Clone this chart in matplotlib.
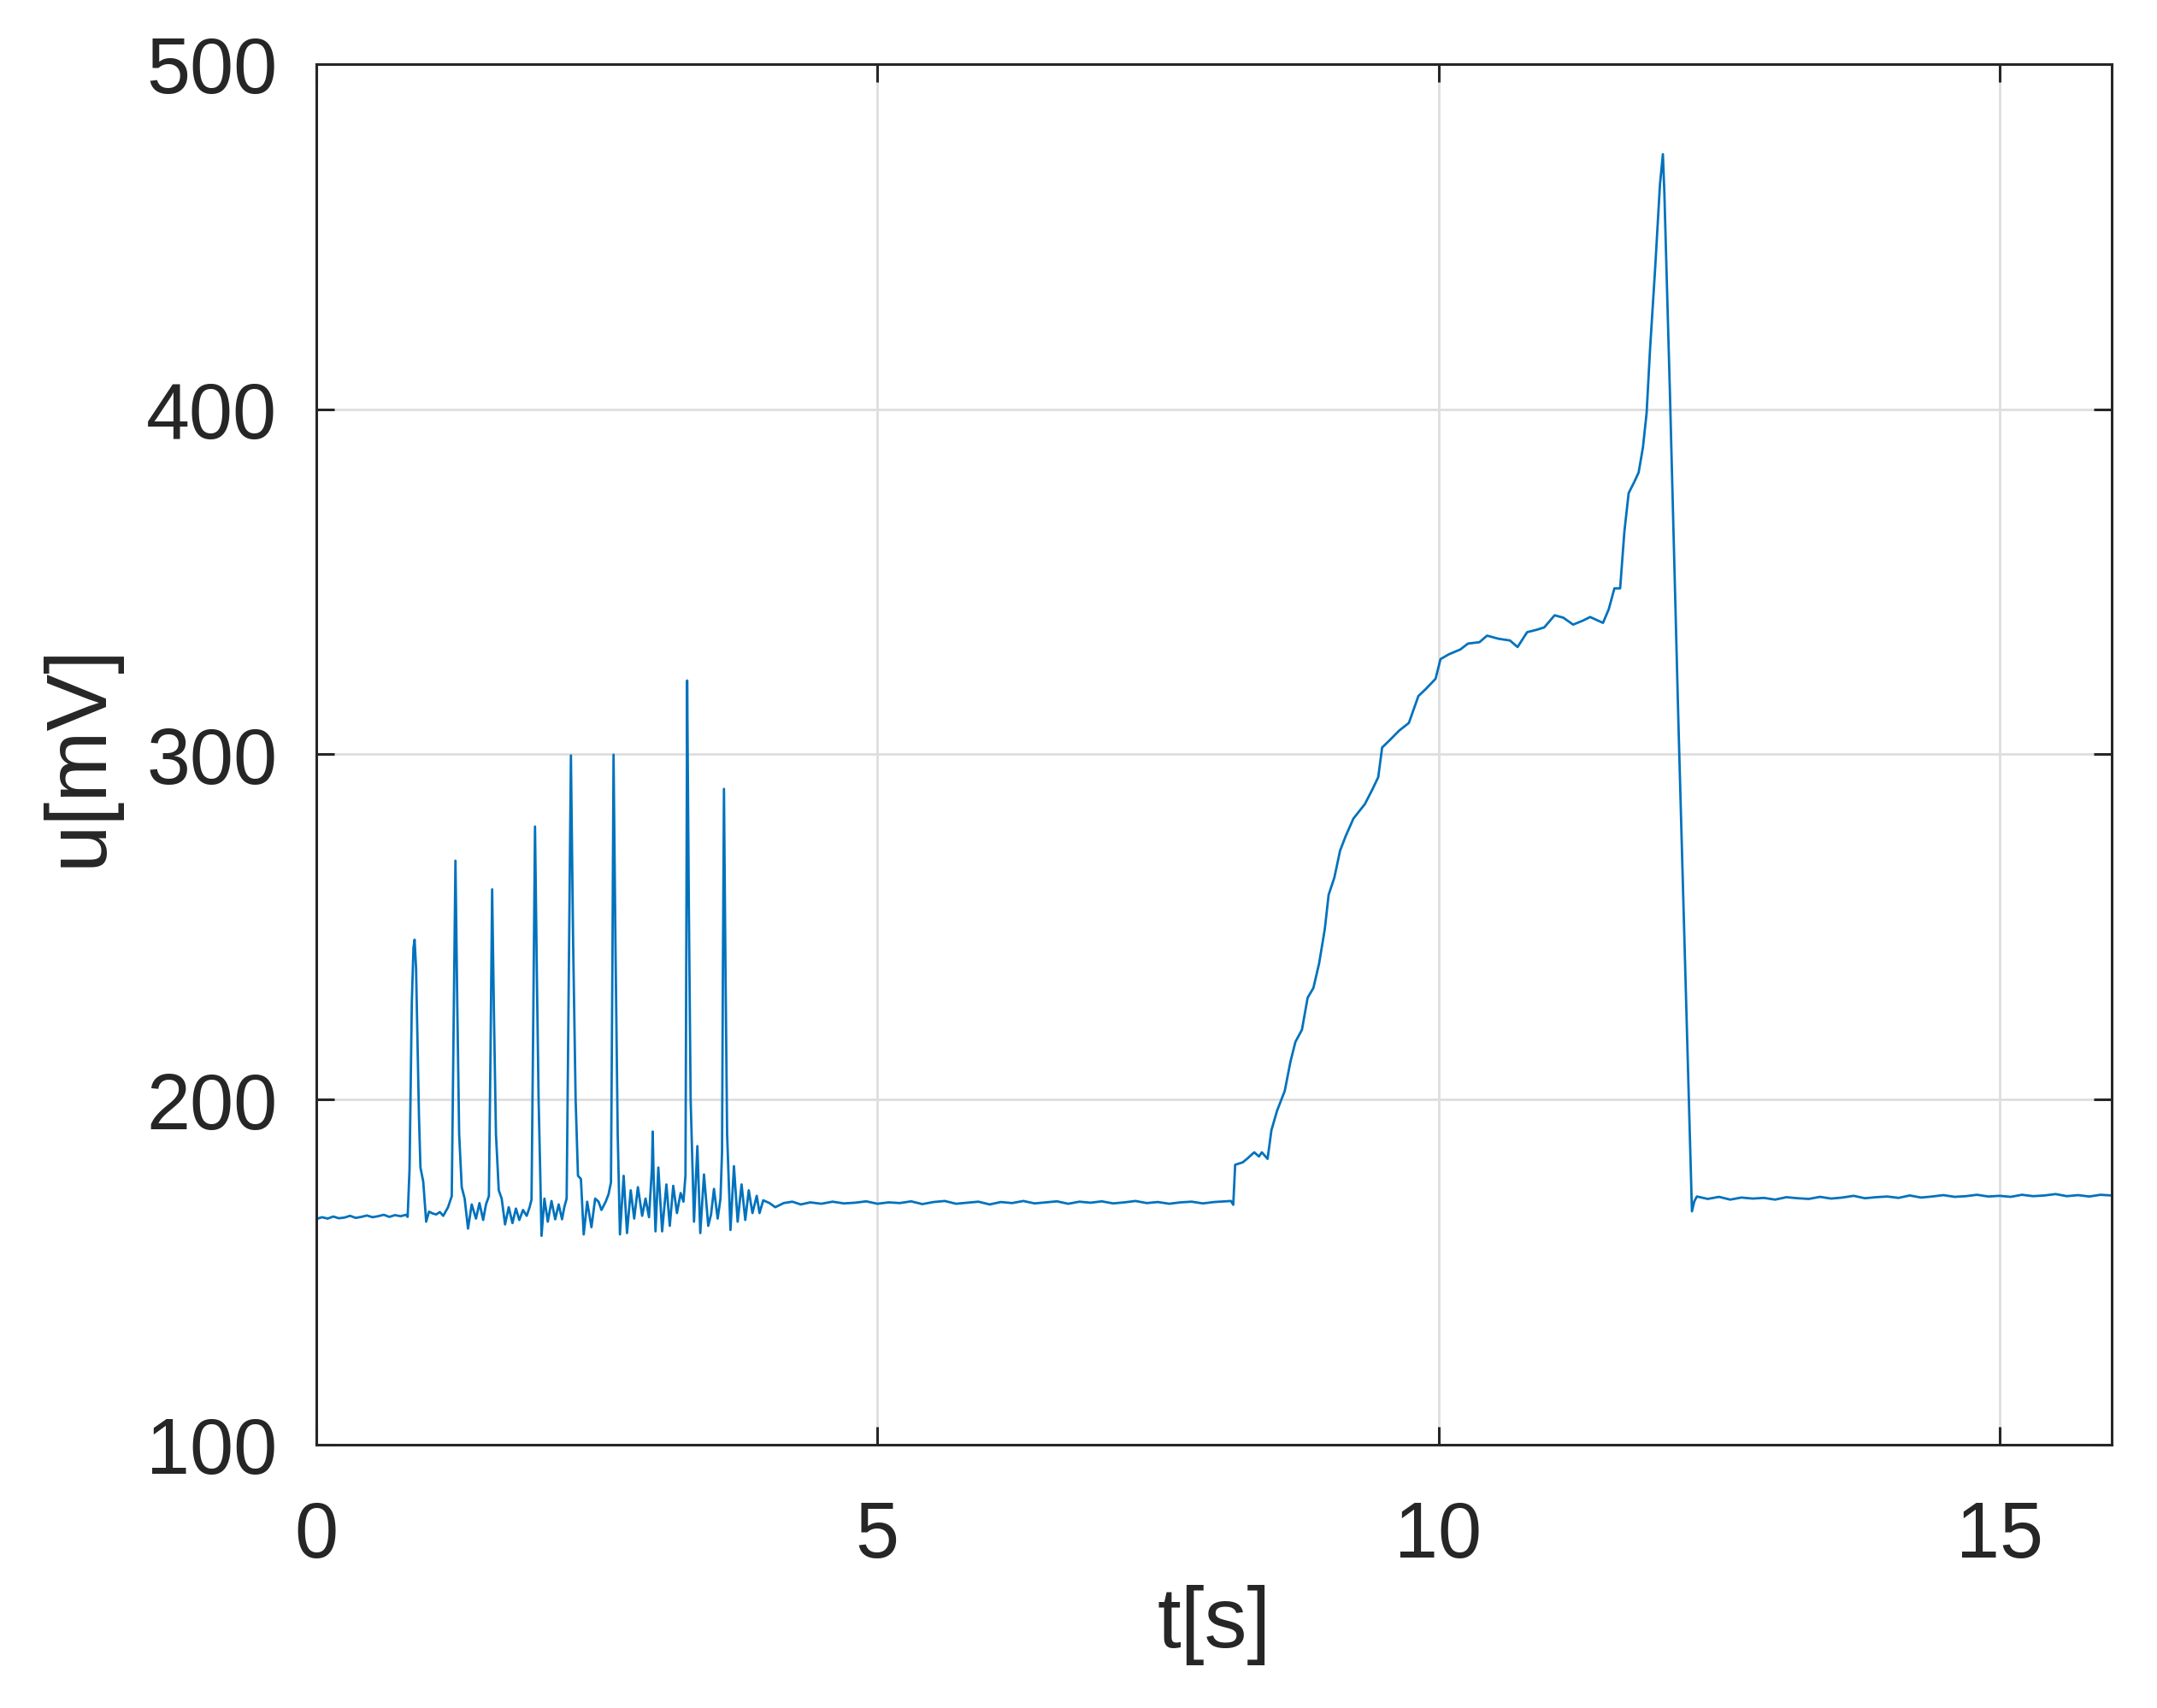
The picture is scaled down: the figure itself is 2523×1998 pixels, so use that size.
import matplotlib
matplotlib.use('Agg')
import matplotlib.pyplot as plt

plt.rcParams['font.family'] = ['Liberation Sans', 'DejaVu Sans']

# time [s] and voltage [mV]
t_base = [0.00, 0.05, 0.10, 0.15, 0.20, 0.25, 0.30, 0.35, 0.40, 0.45, 0.50, 0.55,
          0.60, 0.65, 0.70, 0.75, 0.80]
u_base = [165.4, 165.9, 165.5, 166.1, 165.6, 165.8, 166.3, 165.7, 166.0, 166.4, 165.9, 166.2,
          166.6, 166.0, 166.5, 166.2, 166.6]

# spike train 0.8 .. 4.3 s
t_spikes = [0.813, 0.830, 0.850, 0.865, 0.875, 0.888, 0.902, 0.914, 0.927, 0.952, 0.978, 1.003,
            1.035, 1.067, 1.100, 1.130, 1.173, 1.206,
            1.222, 1.239, 1.255, 1.272, 1.295, 1.321, 1.351, 1.384, 1.422, 1.453, 1.486, 1.511, 1.537,
            1.552, 1.566, 1.582, 1.600, 1.625, 1.651, 1.681, 1.714, 1.747, 1.778, 1.808, 1.841, 1.874,
            1.900, 1.917,
            1.933, 1.948, 1.965, 1.980, 1.994, 2.006, 2.032, 2.062, 2.095, 2.128, 2.159, 2.189, 2.209, 2.230,
            2.250, 2.268, 2.288, 2.310, 2.331, 2.357, 2.382, 2.413, 2.451, 2.484, 2.514, 2.540, 2.578,
            2.603, 2.625,
            2.638, 2.648, 2.665, 2.685, 2.705, 2.738, 2.768, 2.801, 2.832, 2.865, 2.903, 2.933, 2.964,
            2.990, 2.997, 3.005, 3.022, 3.047, 3.081, 3.119, 3.149, 3.180, 3.213, 3.246, 3.271, 3.289,
            3.297, 3.304, 3.318, 3.335, 3.365, 3.395, 3.421, 3.454, 3.492, 3.517, 3.543, 3.576, 3.601, 3.615,
            3.623, 3.632, 3.645, 3.660, 3.690, 3.721, 3.754, 3.789, 3.822, 3.853, 3.886, 3.924, 3.949,
            3.982, 4.038, 4.089, 4.165, 4.241, 4.317]
u_spikes = [166.0, 180.0, 228.0, 244.0, 246.3, 238.0, 215.0, 195.0, 180.3, 176.2, 164.6, 167.5,
            167.0, 166.7, 167.4, 166.3, 168.8, 172.0,
            220.0, 269.2, 228.0, 190.0, 174.6, 171.3, 162.6, 169.6, 165.5, 170.0, 165.1, 169.6, 172.0,
            215.0, 260.9, 225.0, 190.0, 173.7, 171.3, 163.8, 168.8, 164.2, 168.4, 165.1, 168.0, 166.3,
            168.8, 171.0,
            225.0, 279.1, 235.0, 200.0, 179.5, 160.5, 171.3, 164.6, 170.6, 165.3, 169.6, 165.3, 168.8, 171.3,
            240.0, 299.7, 245.0, 200.0, 177.9, 177.0, 160.9, 170.4, 163.0, 171.3, 170.4, 168.0, 170.4,
            172.5, 176.0,
            240.0, 299.9, 245.0, 190.0, 160.9, 177.9, 161.3, 173.7, 165.5, 174.6, 166.3, 171.3, 165.9,
            180.0, 190.7, 178.0, 161.8, 180.3, 161.8, 175.4, 163.4, 175.0, 167.1, 172.9, 170.4, 178.0,
            250.0, 321.4, 260.0, 200.0, 164.6, 186.5, 161.3, 178.3, 163.4, 166.7, 174.1, 165.5, 171.3, 185.0,
            240.0, 290.0, 240.0, 190.0, 162.2, 180.7, 164.6, 175.4, 165.1, 173.7, 167.1, 172.1, 167.1,
            170.8, 170.0, 168.8, 170.0, 170.4, 169.6]

# quiet stretch before the ramp
t_rest1 = [4.40, 4.50, 4.60, 4.70, 4.80, 4.90, 5.00, 5.10, 5.20, 5.30, 5.40, 5.50, 5.60, 5.70,
           5.80, 5.90, 6.00, 6.10, 6.20, 6.30, 6.40, 6.50, 6.60, 6.70, 6.80, 6.90, 7.00, 7.10,
           7.20, 7.30, 7.40, 7.50, 7.60, 7.70, 7.80, 7.90, 8.00, 8.10, 8.15, 8.171]
u_rest1 = [170.2, 169.8, 170.4, 169.9, 170.1, 170.5, 169.8, 170.2, 170.0, 170.5, 169.7, 170.3, 170.6, 169.8,
           170.1, 170.4, 169.6, 170.3, 170.0, 170.6, 169.9, 170.2, 170.5, 169.8, 170.4, 170.1, 170.5, 169.9,
           170.2, 170.6, 170.0, 170.3, 169.8, 170.2, 170.4, 169.9, 170.3, 170.5, 170.6, 169.5]

# ramp, plateau, big peak and drop
t_ramp = [8.188, 8.256, 8.300, 8.358, 8.400, 8.426, 8.477, 8.511, 8.562, 8.630, 8.681, 8.725, 8.783,
          8.834, 8.885, 8.936, 8.987, 9.021, 9.072, 9.123, 9.174, 9.242, 9.344, 9.412, 9.463, 9.498,
          9.565, 9.650, 9.736, 9.821, 9.889, 9.974, 10.018, 10.093, 10.195, 10.263, 10.365, 10.433,
          10.535, 10.637, 10.705, 10.790, 10.875, 10.943, 11.035, 11.113, 11.200, 11.283, 11.352,
          11.466, 11.517, 11.568, 11.619, 11.657, 11.695, 11.746, 11.784, 11.822, 11.855, 11.886,
          11.931, 11.974, 12.000, 12.013, 12.063, 12.139, 12.259, 12.280, 12.303]
u_ramp = [181.1, 181.8, 183.0, 184.7, 183.5, 184.7, 182.8, 191.1, 196.8, 202.5, 211.0, 216.7, 220.2,
          229.5, 232.3, 239.4, 249.4, 259.3, 264.3, 272.1, 276.4, 281.4, 285.6, 289.9, 293.4, 302.0,
          304.1, 306.9, 309.1, 316.9, 319.0, 321.9, 327.6, 329.0, 330.4, 332.1, 332.5, 334.4,
          333.5, 333.0, 331.1, 335.4, 336.1, 336.8, 340.3, 339.6, 337.6, 338.7, 339.8,
          338.1, 342.0, 348.1, 348.1, 364.6, 375.7, 379.0, 381.7, 388.9, 398.9, 417.6,
          440.8, 465.1, 473.9, 462.9, 404.4, 308.5, 167.6, 170.5, 171.9]

# quiet stretch after the drop
t_rest2 = [12.40, 12.50, 12.60, 12.70, 12.80, 12.90, 13.00, 13.10, 13.20, 13.30, 13.40, 13.50,
           13.60, 13.70, 13.80, 13.90, 14.00, 14.10, 14.20, 14.30, 14.40, 14.50, 14.60, 14.70,
           14.80, 14.90, 15.00, 15.10, 15.20, 15.30, 15.40, 15.50, 15.60, 15.70, 15.80, 15.90, 16.00]
u_rest2 = [171.2, 171.8, 171.0, 171.6, 171.3, 171.5, 171.0, 171.7, 171.4, 171.2, 171.8, 171.3,
           171.6, 172.1, 171.4, 171.7, 171.9, 171.5, 172.2, 171.6, 171.9, 172.3, 171.8, 172.0,
           172.4, 171.9, 172.1, 171.8, 172.4, 172.0, 172.2, 172.6, 172.0, 172.3, 171.9, 172.4, 172.2]

t = t_base + t_spikes + t_rest1 + t_ramp + t_rest2
u = u_base + u_spikes + u_rest1 + u_ramp + u_rest2

x_ticks = [0, 5, 10, 15]
y_ticks = [100, 200, 300, 400, 500]

dark = '#262626'

fig = plt.figure(figsize=(25.23, 19.99), dpi=100)
ax = fig.add_axes([0.1467, 0.1541, 0.8323, 0.8079])

ax.plot(t, u, color='#0072BD', linewidth=2.0)

ax.set_xlim(0, 16)
ax.set_ylim(100, 500)
ax.set_xticks(x_ticks)
ax.set_yticks(y_ticks)

ax.grid(True, color='#dedede', linewidth=2.0)
ax.set_axisbelow(True)

for s in ax.spines.values():
    s.set_color(dark)
    s.set_linewidth(2.2)

ax.tick_params(axis='both', direction='in', length=15, width=2.2, color=dark,
               labelcolor=dark, labelsize=66, top=True, right=True)
ax.tick_params(axis='x', pad=46)
ax.tick_params(axis='y', pad=33)

ax.set_xlabel('t[s]', fontsize=72, color=dark)
ax.set_ylabel('u[mV]', fontsize=72, color=dark)
ax.xaxis.set_label_coords(0.5, -0.101)
ax.yaxis.set_label_coords(-0.110, 0.5)

fig.savefig('out.png', dpi=100)
